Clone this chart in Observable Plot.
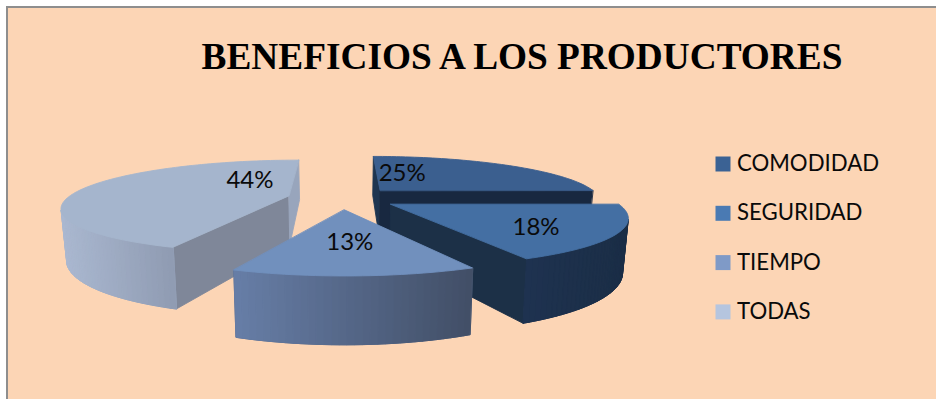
<!DOCTYPE html>
<html lang="es">
<head>
<meta charset="utf-8">
<title>Beneficios a los productores</title>
<script src="https://cdn.jsdelivr.net/npm/d3@7"></script>
<script src="https://cdn.jsdelivr.net/npm/@observablehq/plot@0.6"></script>
<style>
  html, body { margin: 0; padding: 0; background: #fff; overflow: hidden; }
  #panel {
    position: absolute; left: 6px; top: 6px; right: 0; bottom: 0;
    background: #fcd5b5; border-left: 2px solid #8e8e8e; border-top: 2px solid #8e8e8e;
  }
  #chart { position: absolute; left: 0; top: 0; }
</style>
</head>
<body>
<div id="panel"></div>
<div id="chart"></div>
<script>
// Series
const titleText = "BENEFICIOS A LOS PRODUCTORES";
const categories = ["COMODIDAD", "SEGURIDAD", "TIEMPO", "TODAS"];
const percentages = [25, 18, 13, 44];

// Slice styling, in the same order as the categories
const swatchColors = ["#3b6294", "#4a7ab3", "#7f9ac7", "#b5c5df"];
const topColors = ["#3b5f8f", "#446fa3", "#7190bd", "#a5b5cd"];
const startWallColors = ["#1e3550", "#1c3047", "#2a3a55", "#7f8799"];
const endWallColors = ["#182840", "#1c3047", "#2a3a55", "#98a5bc"];
const rimLeftColors = ["#1a2b42", "#1e3250", "#677ea7", "#aab8d0"];
const rimRightColors = ["#1a2b42", "#1b2e46", "#414e66", "#8f9bb2"];

// Where each percentage sits on its slice: radius and share of the sweep
const labelRadius = [0.465, 0.695, 0.562, 0.444];
const labelSweep = [0.164, 0.6, 0.517, 0.807];

// Camera model of the tilted pie: depth maps to y by perspective towards a horizon
const vanishX = 342, depthScale = 0.001147, centerDepth = 4.415, widthScale = 1.12;
const explode = 0.25, wallDrop = 1.25, wallTaper = 0.98;

function project(wx, wz) {
  const y = 1 / (depthScale * (centerDepth + wz));
  return {x: vanishX + widthScale * wx * y, y};
}
const lower = (p) => ({x: vanishX + wallTaper * (p.x - vanishX), y: p.y * wallDrop});

// Negative area means the wall faces the viewer
function signedArea(pts) {
  return d3.sum(pts, (p, i) => {
    const q = pts[(i + 1) % pts.length];
    return p.x * q.y - q.x * p.y;
  });
}

const polygons = [];
const labels = [];
let faceId = 0;
function addFace(points, color) {
  const face = faceId++;
  for (const p of points) polygons.push({x: p.x, y: p.y, face, color});
}

// Turn the shares into cumulative sweeps, clockwise from twelve o'clock
const total = d3.sum(percentages);
let cumulative = 0;
const slices = percentages.map((value, i) => {
  const start = (cumulative / total) * 2 * Math.PI;
  cumulative += value;
  const end = (cumulative / total) * 2 * Math.PI;
  const mid = (start + end) / 2;
  return {i, start, end, ox: explode * Math.sin(mid), oz: explode * Math.cos(mid)};
});

// Painter's order: the farthest slice first
for (const s of d3.sort(slices, (s) => -s.oz)) {
  const at = (r, a) => project(s.ox + r * Math.sin(a), s.oz + r * Math.cos(a));
  const apex = at(0, 0);
  const steps = Math.ceil(((s.end - s.start) * 180) / Math.PI / 1.5);
  const rim = d3.range(steps + 1).map((k) => at(1, s.start + ((s.end - s.start) * k) / steps));

  const wall = (a, b) => [a, b, lower(b), lower(a)];
  const startWall = wall(apex, rim[0]);
  const endWall = wall(rim[steps], apex);
  if (signedArea(startWall) < 0) addFace(startWall, startWallColors[s.i]);
  if (signedArea(endWall) < 0) addFace(endWall, endWallColors[s.i]);

  // The outer wall is cut in thin strips so its shading can run left to right;
  // a plain backing underneath keeps the joins between strips from showing
  const strips = d3.range(steps).map((k) => wall(rim[k], rim[k + 1])).filter((q) => signedArea(q) < 0);
  const [x0, x1] = d3.extent(strips.flatMap((q) => [q[0].x, q[1].x]));
  const shade = d3.interpolateRgb(rimLeftColors[s.i], rimRightColors[s.i]);
  if (strips.length) {
    addFace([...strips.map((q) => q[0]), strips[strips.length - 1][1],
             strips[strips.length - 1][2], ...strips.map((q) => q[3]).reverse()], shade(0.5));
  }
  for (const q of strips) addFace(q, shade(((q[0].x + q[1].x) / 2 - x0) / (x1 - x0)));

  addFace([apex, ...rim], topColors[s.i]);

  const la = s.start + (s.end - s.start) * labelSweep[s.i];
  labels.push({...at(labelRadius[s.i], la), text: `${percentages[s.i]}%`});
}

// Legend rows
const legendTop = 163.5, legendStep = 49.3;
const legendRows = categories.map((name, i) => ({name, y: legendTop + i * legendStep, color: swatchColors[i]}));

const plot = Plot.plot({
  width: 936,
  height: 399,
  margin: 0,
  style: {background: "transparent", overflow: "visible"},
  x: {domain: [0, 936], range: [0, 936], axis: null},
  y: {domain: [0, 399], range: [0, 399], axis: null},
  color: {type: "identity"},
  marks: [
    Plot.line(polygons, {
      x: "x", y: "y", z: "face",
      fill: "color", stroke: "color", strokeWidth: 0.9,
      curve: "linear-closed"
    }),
    Plot.text(labels, {
      x: "x", y: "y", text: "text", dx: 2.5,
      fontFamily: "Lato, 'Noto Sans', sans-serif", fontSize: 24, fill: "#0a0a0a"
    }),
    Plot.text([titleText], {
      x: () => 521.5, y: () => 57, text: (d) => d,
      fontFamily: "'Liberation Serif', serif", fontWeight: "bold", fontSize: 37.3, fill: "#000"
    }),
    Plot.dot(legendRows, {
      x: () => 722.5, y: "y", symbol: "square", r: 8.46, fill: "color", stroke: "none"
    }),
    Plot.text(legendRows, {
      x: () => 736.5, y: "y", text: "name", textAnchor: "start",
      fontFamily: "Lato, 'Noto Sans', sans-serif", fontSize: 22.2, fill: "#0a0a0a"
    })
  ]
});
document.getElementById("chart").append(plot);
</script>
</body>
</html>
